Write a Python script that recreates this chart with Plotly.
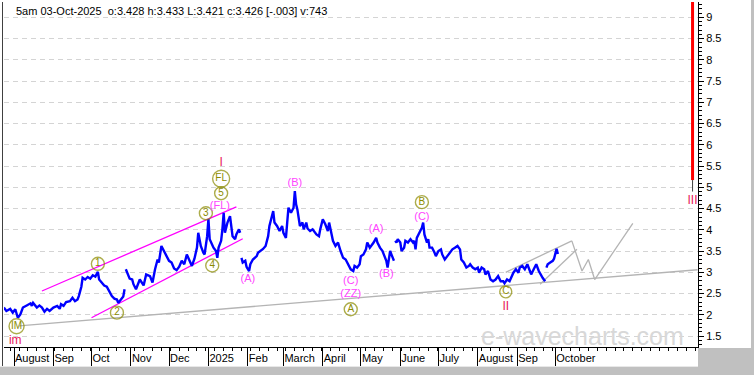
import plotly.graph_objects as go

# ---------------- data ----------------
price_dates = [
    "2024-07-24", "2024-07-26", "2024-07-29", "2024-07-31", "2024-08-02", "2024-08-04", "2024-08-06",
    "2024-08-08", "2024-08-11", "2024-08-14", "2024-08-15", "2024-08-16", "2024-08-19", "2024-08-21",
    "2024-08-23", "2024-08-25", "2024-08-27", "2024-08-29", "2024-09-01", "2024-09-04", "2024-09-06",
    "2024-09-07", "2024-09-09", "2024-09-11", "2024-09-14", "2024-09-16", "2024-09-18", "2024-09-20",
    "2024-09-21", "2024-09-23", "2024-09-24", "2024-09-26", "2024-09-28", "2024-09-30", "2024-10-02",
    "2024-10-04", "2024-10-06", "2024-10-07", "2024-10-09", "2024-10-11", "2024-10-13", "2024-10-15",
    "2024-10-17", "2024-10-19", "2024-10-21", "2024-10-22", "2024-10-24", "2024-10-26", "2024-10-27",
    "2024-10-27",
    "2024-10-28", "2024-10-29", "2024-10-31", "2024-11-02", "2024-11-03", "2024-11-05", "2024-11-06",
    "2024-11-08", "2024-11-11", "2024-11-13", "2024-11-16", "2024-11-18", "2024-11-20", "2024-11-22",
    "2024-11-23", "2024-11-25", "2024-11-27", "2024-11-29", "2024-12-01", "2024-12-03", "2024-12-05",
    "2024-12-07", "2024-12-09", "2024-12-11", "2024-12-13", "2024-12-15", "2024-12-17", "2024-12-19",
    "2024-12-21", "2024-12-23", "2024-12-24", "2024-12-26", "2024-12-28", "2024-12-29", "2024-12-31",
    "2025-01-01", "2025-01-02", "2025-01-03", "2025-01-05", "2025-01-07", "2025-01-08", "2025-01-09",
    "2025-01-11", "2025-01-12", "2025-01-13", "2025-01-14", "2025-01-16", "2025-01-18", "2025-01-19",
    "2025-01-20", "2025-01-22", "2025-01-23", "2025-01-25", "2025-01-26",
    "2025-01-26",
    "2025-01-27", "2025-01-28", "2025-01-30", "2025-01-31", "2025-02-02", "2025-02-03", "2025-02-05",
    "2025-02-08", "2025-02-09", "2025-02-11", "2025-02-13", "2025-02-15", "2025-02-17", "2025-02-18",
    "2025-02-20", "2025-02-21", "2025-02-22", "2025-02-24", "2025-02-26", "2025-02-28", "2025-03-01",
    "2025-03-03", "2025-03-04", "2025-03-05", "2025-03-07", "2025-03-09", "2025-03-10", "2025-03-11",
    "2025-03-12", "2025-03-13", "2025-03-14", "2025-03-16", "2025-03-17", "2025-03-19", "2025-03-20",
    "2025-03-22", "2025-03-24", "2025-03-27", "2025-03-29", "2025-03-30", "2025-04-01", "2025-04-03",
    "2025-04-05", "2025-04-06", "2025-04-08", "2025-04-09", "2025-04-11", "2025-04-13", "2025-04-15",
    "2025-04-17", "2025-04-19", "2025-04-21", "2025-04-23", "2025-04-25", "2025-04-26", "2025-04-28",
    "2025-04-30", "2025-05-01", "2025-05-03", "2025-05-05", "2025-05-06", "2025-05-08", "2025-05-09",
    "2025-05-11", "2025-05-13", "2025-05-14", "2025-05-16", "2025-05-18", "2025-05-19", "2025-05-21",
    "2025-05-22", "2025-05-23", "2025-05-24", "2025-05-25", "2025-05-27",
    "2025-05-27",
    "2025-05-28", "2025-05-29", "2025-05-30", "2025-06-01", "2025-06-02", "2025-06-04", "2025-06-05",
    "2025-06-07", "2025-06-09", "2025-06-11", "2025-06-12", "2025-06-13", "2025-06-14", "2025-06-16",
    "2025-06-18", "2025-06-19", "2025-06-20", "2025-06-22", "2025-06-23", "2025-06-24", "2025-06-26",
    "2025-06-28", "2025-06-29", "2025-07-01", "2025-07-03", "2025-07-04", "2025-07-06", "2025-07-08",
    "2025-07-10", "2025-07-12", "2025-07-14", "2025-07-16", "2025-07-18", "2025-07-19", "2025-07-21",
    "2025-07-23", "2025-07-25", "2025-07-26", "2025-07-28", "2025-07-30", "2025-08-01", "2025-08-02",
    "2025-08-04", "2025-08-06", "2025-08-07", "2025-08-09", "2025-08-11", "2025-08-13", "2025-08-15",
    "2025-08-17", "2025-08-19", "2025-08-21", "2025-08-22", "2025-08-24", "2025-08-26", "2025-08-28",
    "2025-08-29", "2025-08-31", "2025-09-02", "2025-09-03", "2025-09-05", "2025-09-07", "2025-09-09",
    "2025-09-11", "2025-09-12", "2025-09-14", "2025-09-16", "2025-09-18", "2025-09-20", "2025-09-21",
    "2025-09-23",
    "2025-09-23",
    "2025-09-24", "2025-09-25", "2025-09-27", "2025-09-29", "2025-09-30", "2025-10-01", "2025-10-02",
    "2025-10-03",
]
price_values = [
    2.17, 2.09, 2.14, 2.05, 2.13, 1.93, 2.01,
    2.17, 2.22, 2.27, 2.21, 2.28, 2.17, 2.22,
    2.17, 2.07, 2.14, 2.09, 2.17, 2.21, 2.14,
    2.25, 2.21, 2.30, 2.32, 2.40, 2.32, 2.36,
    2.44, 2.66, 2.87, 2.83, 2.89, 2.85, 2.93,
    2.90, 3.01, 2.83, 2.76, 2.69, 2.66, 2.56,
    2.44, 2.38, 2.36, 2.28, 2.35, 2.43, 2.60,
    None,
    3.07, 3.00, 2.85, 2.83, 2.72, 2.60, 2.69,
    2.83, 2.69, 2.95, 2.91, 2.76, 3.07, 3.30,
    3.23, 3.62, 3.50, 3.38, 3.27, 3.23, 3.09,
    3.05, 3.13, 3.27, 3.19, 3.42, 3.30, 3.15,
    3.32, 3.58, 3.93, 3.62, 3.46, 3.42, 3.85,
    4.25, 3.78, 3.70, 3.58, 3.50, 3.34, 3.58,
    3.74, 4.01, 4.40, 3.93, 4.17, 4.32, 4.01,
    3.85, 3.78, 3.89, 4.01, 3.93,
    None,
    3.34, 3.23, 3.27, 3.13, 3.03, 3.19, 3.30,
    3.38, 3.46, 3.50, 3.55, 3.62, 3.85, 4.09,
    4.32, 4.44, 4.17, 4.09, 3.97, 4.09, 3.93,
    3.81, 4.17, 4.52, 4.40, 4.52, 4.91, 4.60,
    4.48, 4.25, 4.09, 4.17, 4.01, 4.17, 4.03,
    3.97, 4.01, 3.89, 3.85, 4.01, 4.25, 4.13,
    3.97, 4.17, 3.93, 3.74, 3.62, 3.70, 3.50,
    3.34, 3.30, 3.19, 3.07, 3.03, 3.15, 3.11,
    3.19, 3.38, 3.42, 3.54, 3.70, 3.58, 3.62,
    3.70, 3.81, 3.70, 3.58, 3.50, 3.42, 3.27,
    3.11, 3.30, 3.50, 3.42, 3.27,
    None,
    3.74, 3.70, 3.78, 3.70, 3.50, 3.58, 3.74,
    3.70, 3.78, 3.70, 3.74, 3.54, 3.81, 3.93,
    4.05, 4.17, 3.89, 3.70, 3.78, 3.58, 3.58,
    3.46, 3.38, 3.50, 3.54, 3.42, 3.30, 3.38,
    3.46, 3.54, 3.58, 3.62, 3.54, 3.30, 3.23,
    3.11, 3.15, 3.19, 3.11, 3.07, 3.11, 2.99,
    3.11, 3.07, 2.95, 3.03, 2.83, 2.79, 2.83,
    2.91, 2.79, 2.79, 2.74, 2.83, 2.79, 2.91,
    2.99, 3.07, 2.99, 3.11, 3.15, 3.07, 3.19,
    3.03, 2.95, 3.07, 3.19, 3.03, 2.91, 2.87,
    2.79,
    None,
    3.11, 3.19, 3.23, 3.27, 3.32, 3.46, 3.55,
    3.43,
]

# trend / channel lines
base_line_dates = ["2024-08-05", "2026-01-21"]
base_line_values = [1.74, 3.06]
channel_upper_dates = ["2024-08-23", "2025-01-23"]
channel_upper_values = [2.56, 4.54]
channel_lower_dates = ["2024-10-01", "2025-01-28"]
channel_lower_values = [1.93, 3.79]
proj_upper_dates = ["2025-08-23", "2025-10-14"]
proj_upper_values = [3.00, 3.74]
proj_lower_dates = ["2025-09-19", "2025-10-18"]
proj_lower_values = [2.72, 3.54]
proj_path_dates = ["2025-10-14", "2025-10-22", "2025-10-27", "2025-11-01", "2025-12-01"]
proj_path_values = [3.74, 3.03, 3.30, 2.83, 4.15]

# circled (olive) wave labels
circle_text = ["IM", "1", "2", "3", "4", "5", "FL", "A", "B", "C"]
circle_dates = ["2024-08-03", "2024-10-06", "2024-10-21", "2024-12-30", "2025-01-04",
                "2025-01-11", "2025-01-11", "2025-04-23", "2025-06-18", "2025-08-23"]
circle_values = [1.73, 3.20, 2.05, 4.39, 3.16, 4.86, 5.20, 2.13, 4.65, 2.54]
circle_sizes = [15, 13, 13, 13, 13, 13, 17, 13, 13, 12]

# magenta wave labels
mag_text = ["(FL)", "(A)", "(B)", "(C)", "(ZZ)", "(A)", "(B)", "(C)"]
mag_dates = ["2025-01-10", "2025-02-01", "2025-03-10", "2025-04-23", "2025-04-23",
             "2025-05-13", "2025-05-21", "2025-06-18"]
mag_values = [4.55, 2.83, 5.09, 2.79, 2.48, 4.01, 2.95, 4.29]

# red degree labels
red_text = ["im", "I", "II", "III"]
red_dates = ["2024-08-02", "2025-01-11", "2025-08-23", "2026-01-17"]
red_values = [1.38, 5.56, 2.19, 4.67]

# axes
month_ticks = ["2024-08-01", "2024-09-01", "2024-10-01", "2024-11-01", "2024-12-01", "2025-01-01",
               "2025-02-01", "2025-03-01", "2025-04-01", "2025-05-01", "2025-06-01", "2025-07-01",
               "2025-08-01", "2025-09-01", "2025-10-01"]
month_labels = ["August", "Sep", "Oct", "Nov", "Dec", "2025", "Feb", "March", "April", "May",
                "June", "July", "August", "Sep", "October"]
y_ticks = [1.5, 2, 2.5, 3, 3.5, 4, 4.5, 5, 5.5, 6, 6.5, 7, 7.5, 8, 8.5, 9]
y_labels = ["1.5", "2", "2.5", "3", "3.5", "4", "4.5", "5", "5.5", "6", "6.5", "7", "7.5", "8", "8.5", "9"]

header = "5am 03-Oct-2025  o:3.428 h:3.433 L:3.421 c:3.426 [-.003] v:743"
indicator_date = "2026-01-17"
indicator_top = 9.4
indicator_bottom = 5.17
indicator_stem = 4.90

# ---------------- figure ----------------
FONT = "Liberation Sans, Arial, sans-serif"
W, H = 754, 375
L, R, T, B = 4, 56, 2, 28
PW, PH = W - L - R, H - T - B


def px(xp):
    return (xp - L) / PW


def py(yp):
    return (H - B - yp) / PH


fig = go.Figure()

GRAY = "#b4b4b4"
MAG = "#ff00ff"

fig.add_trace(go.Scatter(x=base_line_dates, y=base_line_values, mode="lines",
                         line=dict(color=GRAY, width=1.3), hoverinfo="skip"))
for dts, vals in [(proj_upper_dates, proj_upper_values), (proj_lower_dates, proj_lower_values),
                  (proj_path_dates, proj_path_values)]:
    fig.add_trace(go.Scatter(x=dts, y=vals, mode="lines", line=dict(color=GRAY, width=1.3),
                             hoverinfo="skip"))
for dts, vals in [(channel_upper_dates, channel_upper_values), (channel_lower_dates, channel_lower_values)]:
    fig.add_trace(go.Scatter(x=dts, y=vals, mode="lines", line=dict(color=MAG, width=1.3),
                             hoverinfo="skip"))

fig.add_trace(go.Scatter(x=price_dates, y=price_values, mode="lines", connectgaps=False,
                         line=dict(color="#0000ff", width=2.4), hoverinfo="skip"))

fig.add_trace(go.Scatter(
    x=circle_dates, y=circle_values, mode="markers+text", text=circle_text,
    textposition="middle center",
    textfont=dict(family=FONT, size=10, color="#8b8b00"),
    marker=dict(symbol="circle", size=circle_sizes, color="rgba(255,255,255,0)",
                line=dict(color="#8b8b00", width=1.4)),
    hoverinfo="skip"))

fig.add_trace(go.Scatter(
    x=mag_dates, y=mag_values, mode="text", text=mag_text, textposition="middle center",
    textfont=dict(family=FONT, size=11, color="#ff44ff"), hoverinfo="skip"))

fig.add_trace(go.Scatter(
    x=red_dates, y=red_values, mode="text", text=red_text, textposition="middle center",
    textfont=dict(family=FONT, size=12, color="#e8205a"), hoverinfo="skip"))

shapes = [
    # indicator bar at right
    dict(type="line", xref="x", yref="y", x0=indicator_date, x1=indicator_date,
         y0=indicator_bottom, y1=indicator_top, line=dict(color="#ff0000", width=3)),
    dict(type="line", xref="x", yref="y", x0=indicator_date, x1=indicator_date,
         y0=indicator_stem, y1=indicator_bottom, line=dict(color="#404040", width=1)),
    # frame
    dict(type="rect", xref="paper", yref="paper", x0=px(-5), x1=px(760), y0=py(367), y1=py(380),
         fillcolor="#c0c0c0", line=dict(width=0)),
    dict(type="rect", xref="paper", yref="paper", x0=px(751), x1=px(760), y0=py(380), y1=py(-5),
         fillcolor="#c0c0c0", line=dict(width=0)),
    dict(type="rect", xref="paper", yref="paper", x0=px(698), x1=px(751), y0=py(367), y1=py(348),
         fillcolor="#c0c0c0", line=dict(width=0)),
    dict(type="line", xref="paper", yref="paper", x0=px(2.5), x1=px(2.5), y0=py(367), y1=py(2),
         line=dict(color="#404040", width=1)),
    dict(type="line", xref="paper", yref="paper", x0=px(0), x1=px(698), y0=py(366.5), y1=py(366.5),
         line=dict(color="#e8e8e8", width=1)),
]

annotations = [
    dict(xref="paper", yref="paper", x=px(14), y=py(11), text=header, showarrow=False,
         xanchor="left", yanchor="middle", font=dict(family=FONT, size=11, color="#000000")),
    dict(xref="paper", yref="paper", x=px(582), y=py(336), text="e-wavecharts.com", showarrow=False,
         xanchor="center", yanchor="middle", font=dict(family=FONT, size=25, color="#d8d8d8")),
]

fig.update_layout(
    width=W, height=H, margin=dict(l=L, r=R, t=T, b=B),
    paper_bgcolor="white", plot_bgcolor="white", showlegend=False,
    shapes=shapes, annotations=annotations,
    font=dict(family=FONT, size=11, color="#000000"),
)

fig.update_xaxes(
    type="date", range=["2024-07-24 03:00", "2026-01-21 07:00"],
    tickvals=month_ticks, ticktext=month_labels, tickangle=0,
    ticks="outside", ticklen=20, tickwidth=1, tickcolor="#000000",
    ticklabelposition="outside right", ticklabelstandoff=1,
    tickfont=dict(family=FONT, size=11, color="#000000"),
    showline=True, linecolor="#000000", linewidth=1, showgrid=False, zeroline=False,
    minor=dict(ticks="outside", ticklen=3, tickcolor="#000000", dtick=7 * 24 * 3600 * 1000,
               tick0="2024-07-29", showgrid=False),
)
fig.update_yaxes(
    side="right", range=[1.242, 9.36],
    tickvals=y_ticks, ticktext=y_labels,
    ticks="outside", ticklen=5, tickcolor="#000000",
    tickfont=dict(family=FONT, size=11, color="#000000"),
    showline=True, linecolor="#000000", linewidth=1,
    showgrid=True, gridcolor="#d4d4d4", griddash="5px,4px", gridwidth=1, zeroline=False,
    minor=dict(ticks="outside", ticklen=3, tickcolor="#000000", dtick=0.1, showgrid=False),
)

fig.write_html("out.html")
